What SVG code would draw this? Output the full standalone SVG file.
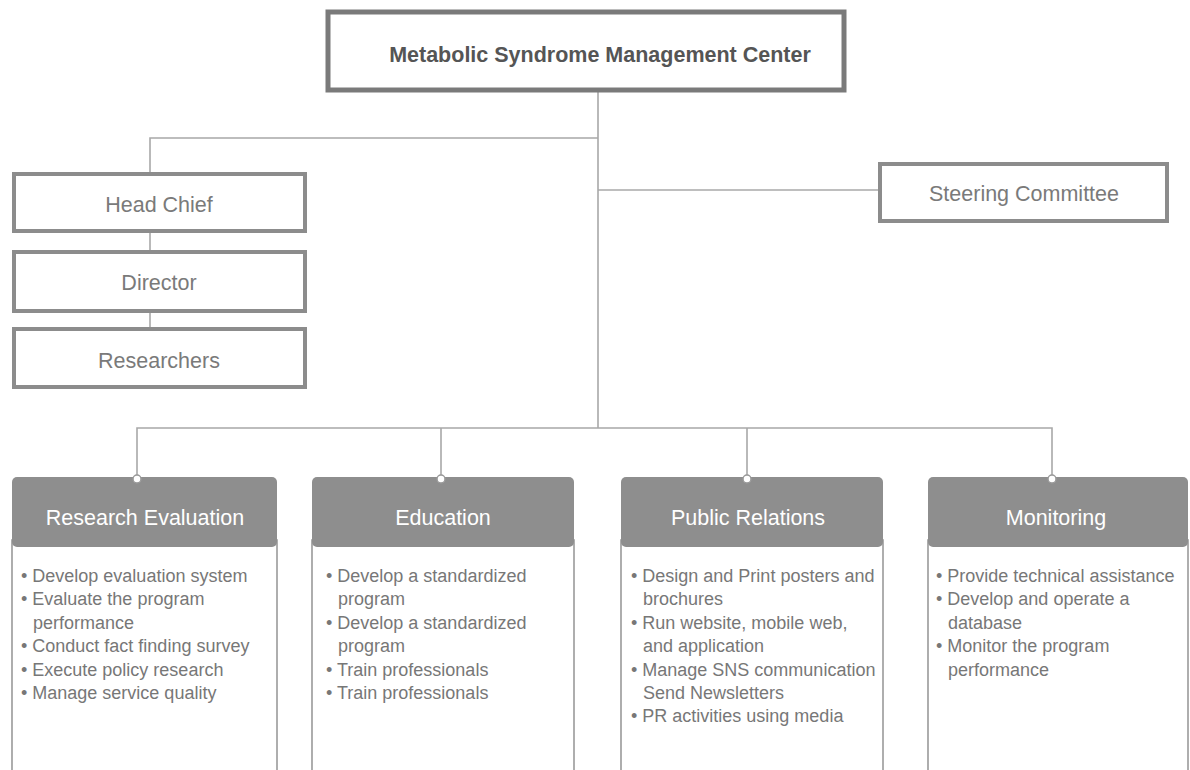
<svg xmlns="http://www.w3.org/2000/svg" width="1190" height="770" viewBox="0 0 1190 770">
<defs>
<style>
.conn{stroke:#a8a8a8;stroke-width:1.6;fill:none}
.box{fill:#fff;stroke:#8c8c8c;stroke-width:4}
.top{fill:#fff;stroke:#7a7a7a;stroke-width:5}
.lbl{font-family:"Liberation Sans",Arial,sans-serif;font-size:21.5px;fill:#7a7a7a;text-anchor:middle}
.title{font-family:"Liberation Sans",Arial,sans-serif;font-size:21.5px;font-weight:bold;fill:#555;text-anchor:middle}
.hdr{fill:#8e8e8e}
.htxt{font-family:"Liberation Sans",Arial,sans-serif;font-size:21.5px;fill:#fff;text-anchor:middle}
.body{fill:#fff;stroke:#9a9a9a;stroke-width:1.6}
.item{font-family:"Liberation Sans",Arial,sans-serif;font-size:18px;fill:#777}
.dot{fill:#fff;stroke:#999;stroke-width:1.5}
</style>
</defs>
<rect width="1190" height="770" fill="#fff"/>
<g id="connectors">
<path class="conn" d="M598,92 V428"/>
<path class="conn" d="M598,138 H150 V172"/>
<path class="conn" d="M150,232 V250"/>
<path class="conn" d="M150,312 V327"/>
<path class="conn" d="M598,190 H878"/>
<path class="conn" d="M137,478 V428 H1052 V478"/>
<path class="conn" d="M441,428 V478"/>
<path class="conn" d="M747,428 V478"/>
</g>
<g id="center">
<rect class="top" x="328" y="12" width="516" height="78"/>
<text class="title" x="600" y="62">Metabolic Syndrome Management Center</text>
</g>
<g id="headchief">
<rect class="box" x="14" y="174" width="291" height="57"/>
<text class="lbl" x="159" y="212">Head Chief</text>
</g>
<g id="director">
<rect class="box" x="14" y="252" width="291" height="59"/>
<text class="lbl" x="159" y="290">Director</text>
</g>
<g id="researchers">
<rect class="box" x="14" y="329" width="291" height="58"/>
<text class="lbl" x="159" y="368">Researchers</text>
</g>
<g id="steering">
<rect class="box" x="880" y="164" width="287" height="57"/>
<text class="lbl" x="1024" y="201">Steering Committee</text>
</g>
<g id="research">
<rect class="body" x="12" y="540" width="265" height="240"/>
<rect class="hdr" x="12" y="477" width="265" height="70" rx="5"/>
<circle class="dot" cx="137" cy="479" r="4"/>
<text class="htxt" x="145" y="525">Research Evaluation</text>
<text class="item" x="21" y="582">• Develop evaluation system</text>
<text class="item" x="21" y="605.4">• Evaluate the program</text>
<text class="item" x="33" y="628.8">performance</text>
<text class="item" x="21" y="652.2">• Conduct fact finding survey</text>
<text class="item" x="21" y="675.6">• Execute policy research</text>
<text class="item" x="21" y="699">• Manage service quality</text>
</g>
<g id="education">
<rect class="body" x="312" y="540" width="262" height="240"/>
<rect class="hdr" x="312" y="477" width="262" height="70" rx="5"/>
<circle class="dot" cx="441" cy="479" r="4"/>
<text class="htxt" x="443" y="525">Education</text>
<text class="item" x="326" y="582">• Develop a standardized</text>
<text class="item" x="338" y="605.4">program</text>
<text class="item" x="326" y="628.8">• Develop a standardized</text>
<text class="item" x="338" y="652.2">program</text>
<text class="item" x="326" y="675.6">• Train professionals</text>
<text class="item" x="326" y="699">• Train professionals</text>
</g>
<g id="pr">
<rect class="body" x="621" y="540" width="262" height="240"/>
<rect class="hdr" x="621" y="477" width="262" height="70" rx="5"/>
<circle class="dot" cx="747" cy="479" r="4"/>
<text class="htxt" x="748" y="525">Public Relations</text>
<text class="item" x="631" y="582">• Design and Print posters and</text>
<text class="item" x="643" y="605.4">brochures</text>
<text class="item" x="631" y="628.8">• Run website, mobile web,</text>
<text class="item" x="643" y="652.2">and application</text>
<text class="item" x="631" y="675.6">• Manage SNS communication</text>
<text class="item" x="643" y="699">Send Newsletters</text>
<text class="item" x="631" y="722.4">• PR activities using media</text>
</g>
<g id="monitoring">
<rect class="body" x="928" y="540" width="260" height="240"/>
<rect class="hdr" x="928" y="477" width="260" height="70" rx="5"/>
<circle class="dot" cx="1052" cy="479" r="4"/>
<text class="htxt" x="1056" y="525">Monitoring</text>
<text class="item" x="936" y="582">• Provide technical assistance</text>
<text class="item" x="936" y="605.4">• Develop and operate a</text>
<text class="item" x="948" y="628.8">database</text>
<text class="item" x="936" y="652.2">• Monitor the program</text>
<text class="item" x="948" y="675.6">performance</text>
</g>
</svg>
